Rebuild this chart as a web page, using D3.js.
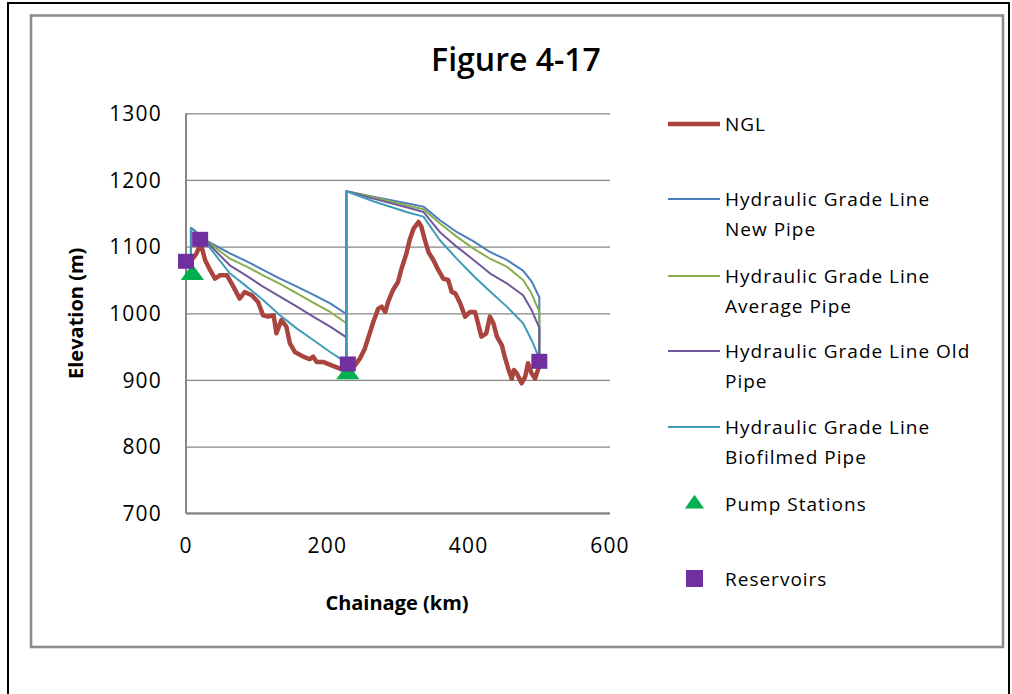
<!DOCTYPE html>
<html>
<head>
<meta charset="utf-8">
<script src="https://cdn.jsdelivr.net/npm/d3@7"></script>
<style>
  body { margin: 0; background: #fff; }
  svg text { font-family: "Open Sans", "Noto Sans", sans-serif; fill: #000; }
  .grid line { stroke: #868686; stroke-width: 1.3; }
  .grid .domain { display: none; }
</style>
</head>
<body>
<div id="chart"></div>
<script>
// NGL profile (chainage km, elevation m)
var nglKm = [0, 8, 14, 20, 22, 27, 34, 41, 48, 58, 67, 76, 83, 93, 102, 109, 116, 124, 128, 135,
  142, 147, 154, 166, 175, 180, 185, 194, 206, 218, 229, 239, 246, 253, 260, 265, 272, 277, 282, 286,
  293, 300, 305, 312, 317, 322, 329, 333, 338, 343, 350, 357, 364, 371, 376, 381, 388, 395, 402, 409,
  414, 418, 425, 430, 435, 440, 447, 451, 456, 461, 464, 468, 475, 480, 484, 489, 494, 498, 502];
var nglElev = [1078, 1080, 1088, 1102, 1100, 1080, 1065, 1052, 1057, 1057, 1040, 1022, 1032, 1027, 1017, 997, 995, 997, 970, 990,
  980, 955, 942, 935, 931, 935, 927, 927, 922, 917, 915, 922, 932, 947, 970, 987, 1007, 1010, 1002, 1017,
  1035, 1047, 1067, 1090, 1112, 1127, 1137, 1130, 1110, 1092, 1080, 1065, 1052, 1050, 1032, 1030, 1015, 995, 1002, 1002,
  982, 965, 970, 995, 985, 965, 952, 935, 917, 902, 915, 910, 895, 905, 925, 910, 902, 915, 925];

// hydraulic grade lines share the same chainage points
var hglKm = [7, 7, 12, 22, 31, 62, 86, 109, 133, 157, 180, 204, 227, 227, 227,
  265, 312, 336, 359, 383, 407, 430, 454, 477, 489, 500, 500];
var hglNew = [1060, 1128, 1124, 1114, 1108, 1090, 1078, 1065, 1052, 1040, 1028, 1015, 999, 922, 1183,
  1175, 1165, 1160, 1140, 1122, 1108, 1092, 1080, 1064, 1048, 1024, 929];
var hglAverage = [1060, 1128, 1124, 1114, 1107, 1082, 1070, 1057, 1044, 1030, 1016, 1002, 985, 922, 1183,
  1174, 1162, 1156, 1135, 1115, 1097, 1082, 1070, 1050, 1030, 1002, 929];
var hglOld = [1060, 1128, 1124, 1113, 1105, 1072, 1056, 1040, 1025, 1010, 995, 980, 964, 922, 1183,
  1172, 1159, 1152, 1122, 1100, 1080, 1060, 1045, 1027, 1005, 978, 929];
var hglBiofilmed = [1060, 1128, 1123, 1111, 1102, 1060, 1040, 1020, 997, 977, 960, 942, 926, 922, 1183,
  1168, 1152, 1145, 1110, 1082, 1056, 1033, 1010, 985, 960, 932, 929];

var pumpKm = [9, 229];
var pumpElev = [1058, 909];
var reservoirKm = [0, 20, 229, 500];
var reservoirElev = [1078, 1111, 924, 928];

var yTicks = [700, 800, 900, 1000, 1100, 1200, 1300];
var xTicks = [0, 200, 400, 600];

var lineNames = ["NGL", "Hydraulic Grade Line\nNew Pipe", "Hydraulic Grade Line\nAverage Pipe",
  "Hydraulic Grade Line Old\nPipe", "Hydraulic Grade Line\nBiofilmed Pipe"];
var lineColors = ["#A9443F", "#4A7EBB", "#8AAD4F", "#71589A", "#3F9CB8"];

var svgWidth = 1012, svgHeight = 694;
var margin = { top: 113.3, left: 186 };
var width = 424, height = 400;

var svg = d3.select("#chart").append("svg")
  .attr("width", svgWidth)
  .attr("height", svgHeight);

// frames
svg.append("rect")
  .attr("x", 8).attr("y", 3)
  .attr("width", 1001).attr("height", 720)
  .attr("fill", "none").attr("stroke", "#000").attr("stroke-width", 2);
svg.append("rect")
  .attr("x", 31).attr("y", 15.5)
  .attr("width", 972).attr("height", 631.5)
  .attr("fill", "none").attr("stroke", "#8c8c8c").attr("stroke-width", 2.6);

svg.append("text")
  .attr("x", 516).attr("y", 71)
  .attr("text-anchor", "middle")
  .style("font-size", "32px").style("font-weight", "600")
  .text("Figure 4-17");

var chart = svg.append("g")
  .attr("transform", "translate(" + margin.left + "," + margin.top + ")");

var x = d3.scaleLinear().domain([0, 600]).range([0, width]);
var y = d3.scaleLinear().domain([700, 1300]).range([height, 0]);

// horizontal gridlines
chart.append("g")
  .attr("class", "grid")
  .call(d3.axisLeft(y).tickValues(yTicks).tickSize(-width).tickFormat(""));

// axis lines
chart.append("line")
  .attr("x1", 0).attr("x2", 0).attr("y1", 0).attr("y2", height)
  .attr("stroke", "#868686").attr("stroke-width", 2);
chart.append("line")
  .attr("x1", 0).attr("x2", width).attr("y1", height).attr("y2", height)
  .attr("stroke", "#868686").attr("stroke-width", 2);

// tick labels
chart.selectAll(".ylab").data(yTicks).enter().append("text")
  .attr("class", "ylab")
  .attr("x", -24).attr("y", function(d) { return y(d); })
  .attr("dy", "0.36em")
  .attr("text-anchor", "end")
  .style("font-size", "21px").style("letter-spacing", "1.2px")
  .text(function(d) { return d; });

chart.selectAll(".xlab").data(xTicks).enter().append("text")
  .attr("class", "xlab")
  .attr("x", function(d) { return x(d); })
  .attr("y", height + 40)
  .attr("text-anchor", "middle")
  .style("font-size", "21px").style("letter-spacing", "1.2px")
  .text(function(d) { return d; });

// axis titles
chart.append("text")
  .attr("transform", "translate(" + (-110) + "," + (height / 2) + ") rotate(-90)")
  .attr("text-anchor", "middle")
  .attr("dy", "0.36em")
  .style("font-size", "20px").style("font-weight", "bold")
  .text("Elevation (m)");
chart.append("text")
  .attr("x", 211).attr("y", height + 90)
  .attr("text-anchor", "middle")
  .attr("dy", "0.36em")
  .style("font-size", "20px").style("font-weight", "bold")
  .text("Chainage (km)");

// lines
var line = d3.line()
  .x(function(d) { return x(d[0]); })
  .y(function(d) { return y(d[1]); });

var seriesData = [
  d3.zip(nglKm, nglElev),
  d3.zip(hglKm, hglNew),
  d3.zip(hglKm, hglAverage),
  d3.zip(hglKm, hglOld),
  d3.zip(hglKm, hglBiofilmed)
];

seriesData.forEach(function(data, i) {
  chart.append("path")
    .datum(data)
    .attr("fill", "none")
    .attr("stroke", lineColors[i])
    .attr("stroke-width", i == 0 ? 4.5 : 2)
    .attr("stroke-linejoin", "round")
    .attr("d", line);
});

// markers
var tri = d3.symbol().type(d3.symbolTriangle).size(150);
chart.selectAll(".pump").data(d3.zip(pumpKm, pumpElev)).enter().append("path")
  .attr("class", "pump")
  .attr("d", tri)
  .attr("transform", function(d) { return "translate(" + x(d[0]) + "," + y(d[1]) + ") scale(1.25,1)"; })
  .attr("fill", "#00B050");

chart.selectAll(".res").data(d3.zip(reservoirKm, reservoirElev)).enter().append("rect")
  .attr("class", "res")
  .attr("x", function(d) { return x(d[0]) - 8; })
  .attr("y", function(d) { return y(d[1]) - 7.5; })
  .attr("width", 16).attr("height", 15)
  .attr("fill", "#7030A0");

// legend
var legendY = [124, 199, 276, 351, 427];
var legend = svg.append("g").style("letter-spacing", "1px");
lineNames.forEach(function(name, i) {
  legend.append("line")
    .attr("x1", 668).attr("x2", 720)
    .attr("y1", legendY[i]).attr("y2", legendY[i])
    .attr("stroke", lineColors[i])
    .attr("stroke-width", i == 0 ? 4.5 : 2);
  var t = legend.append("text")
    .attr("x", 725).attr("y", legendY[i])
    .style("font-size", "19px");
  name.split("\n").forEach(function(part, j) {
    t.append("tspan").attr("x", 725).attr("dy", j == 0 ? "0.36em" : "30px").text(part);
  });
});

legend.append("path")
  .attr("d", d3.symbol().type(d3.symbolTriangle).size(110))
  .attr("transform", "translate(694.5,504) scale(1.2,1)")
  .attr("fill", "#00B050");
legend.append("text")
  .attr("x", 725).attr("y", 504).attr("dy", "0.36em")
  .style("font-size", "19px")
  .text("Pump Stations");

legend.append("rect")
  .attr("x", 686).attr("y", 570)
  .attr("width", 17).attr("height", 17)
  .attr("fill", "#7030A0");
legend.append("text")
  .attr("x", 725).attr("y", 579).attr("dy", "0.36em")
  .style("font-size", "19px")
  .text("Reservoirs");
</script>
</body>
</html>
